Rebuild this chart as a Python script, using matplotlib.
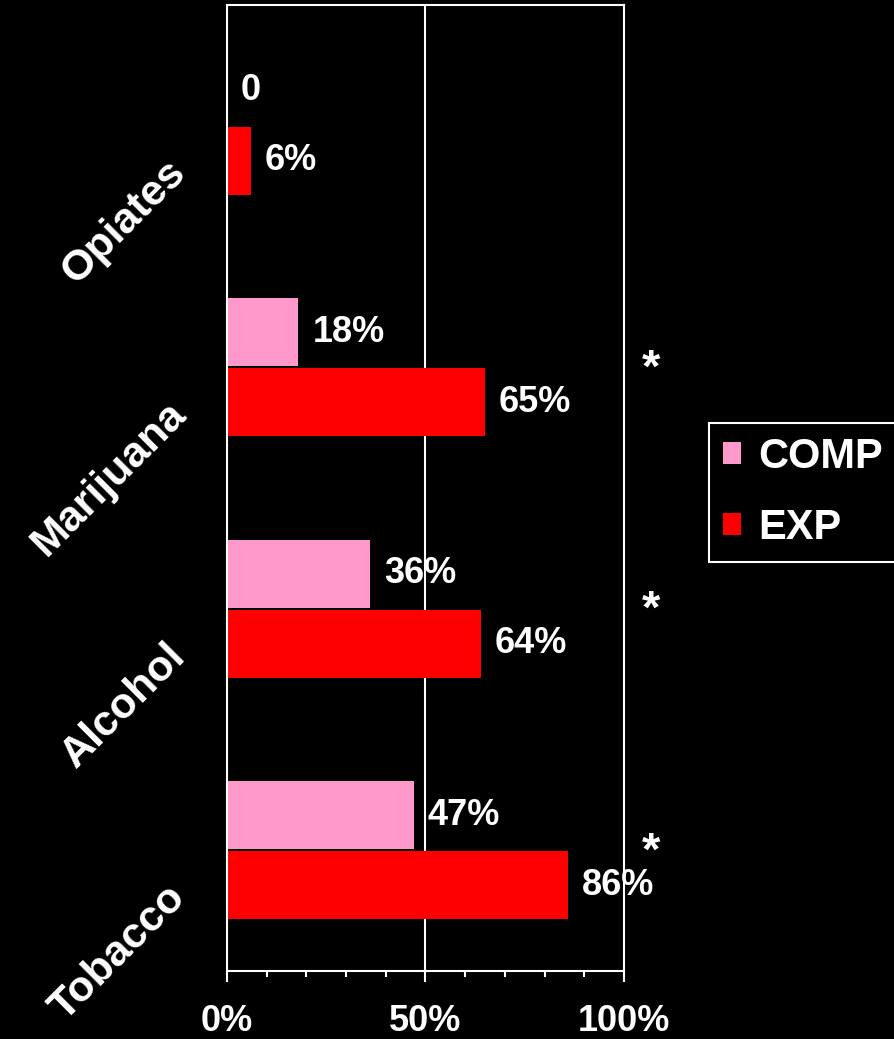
import matplotlib.pyplot as plt
import matplotlib.transforms as mtransforms
import numpy as np

plt.rcParams['font.family'] = ['Liberation Sans', 'DejaVu Sans']
plt.rcParams['font.weight'] = 'bold'

# data, bottom to top
categories = ['Tobacco', 'Alcohol', 'Marijuana', 'Opiates']
comp = [47, 36, 18, 0]
exp_vals = [86, 64, 65, 6]
comp_labels = ['47%', '36%', '18%', '0']
exp_labels = ['86%', '64%', '65%', '6%']
significant = [True, True, True, False]

pink = '#FF99CC'
red = '#FF0000'

fig = plt.figure(figsize=(8.95, 10.39), dpi=100, facecolor='black')
ax = fig.add_axes([227/895, 1 - 971/1039, 397/895, 966/1039])
ax.set_facecolor('black')

y = np.arange(len(categories))
h = 0.28
off = 0.145
b1 = ax.barh(y + off, comp, height=h, color=pink, label='COMP', zorder=2)
b2 = ax.barh(y - off, exp_vals, height=h, color=red, label='EXP', zorder=2)

# gridline at 50% sits on top of labels but under bars
ax.axvline(50, color='white', lw=1.5, zorder=1.5)

for i in range(len(categories)):
    ax.annotate(comp_labels[i], (comp[i], y[i] + off), xytext=(10, 0),
                textcoords='offset points', ha='left', va='center',
                color='white', fontsize=26, fontweight='bold', zorder=1)
    ax.annotate(exp_labels[i], (exp_vals[i], y[i] - off), xytext=(10, 0),
                textcoords='offset points', ha='left', va='center',
                color='white', fontsize=26, fontweight='bold', zorder=1)
    if significant[i]:
        ax.text(106.8, y[i] - 0.01, '*', ha='center', va='center',
                color='white', fontsize=34, fontweight='bold', clip_on=False)

# rotated category labels
trans = mtransforms.blended_transform_factory(ax.transAxes, ax.transData)
for i, name in enumerate(categories):
    ax.text(-0.12, y[i] - 0.17, name, transform=trans, rotation=45,
            rotation_mode='anchor', ha='right', va='center', color='white',
            fontsize=31, fontweight='bold', clip_on=False)

ax.set_xlim(0, 100)
ax.set_ylim(-0.5, 3.5)
ax.set_yticks([])
ax.set_xticks([0, 50, 100])
ax.set_xticklabels(['0%', '50%', '100%'])
ax.set_xticks(np.arange(0, 101, 10), minor=True)
ax.tick_params(axis='x', which='major', direction='out', length=8, width=1.5,
               color='white', labelcolor='white', labelsize=26, pad=16)
ax.tick_params(axis='x', which='minor', direction='out', length=4.5, width=1.5,
               color='white')
for s in ax.spines.values():
    s.set_color('white')
    s.set_linewidth(1.5)

leg = fig.legend(handles=[b1, b2], loc='upper left',
                 bbox_to_anchor=(709/895, 1 - 423/1039),
                 bbox_transform=fig.transFigure, borderaxespad=0,
                 fontsize=30, frameon=True, fancybox=False,
                 facecolor='black', edgecolor='white', framealpha=1,
                 handlelength=0.45, handleheight=0.45, handletextpad=0.4,
                 labelspacing=0.75, borderpad=0.33)
leg.get_frame().set_linewidth(1.5)
for t in leg.get_texts():
    t.set_color('white')
    t.set_fontweight('bold')

fig.savefig('out.png', dpi=100, facecolor='black')
